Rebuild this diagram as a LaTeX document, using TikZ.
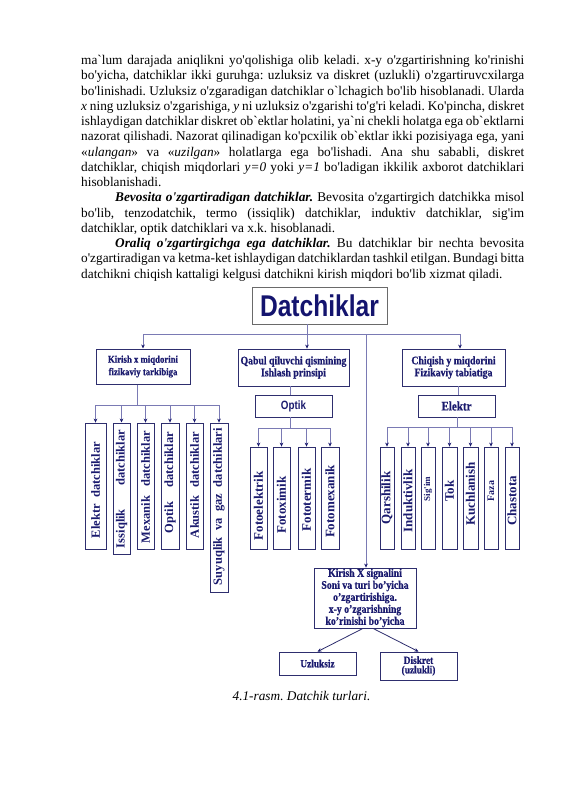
\documentclass[tikz,border=0pt]{standalone}
\usepackage{fontspec}
\setmainfont{Liberation Serif}[Ligatures=TeXOff]
\newfontfamily\dgser{Liberation Serif}[FakeStretch=0.85,Ligatures=TeXOff,BoldFeatures={FakeBold=0.7}]
\newfontfamily\dgsans{Liberation Sans}[FakeStretch=0.82]
\usetikzlibrary{arrows.meta}
\definecolor{navy}{HTML}{1A1A6E}
\definecolor{deepnavy}{HTML}{14146E}
\definecolor{wirec}{HTML}{7A7AB4}
\definecolor{framec}{HTML}{2E2E6E}
\definecolor{grayframe}{HTML}{6A6A6A}
\frenchspacing
\begin{document}
\begin{tikzpicture}[x=1pt,y=-1pt,
  bodyline/.style={anchor=base west,inner sep=0pt,font=\fontsize{13.3}{15.25}\selectfont},
  box/.style={draw=framec,line width=0.8pt,inner sep=0pt,text=navy},
  hbox/.style={box,align=center,font=\dgser\bfseries\fontsize{11.5}{12}\selectfont},
  vbox/.style={box,minimum height=102pt},
  vtext/.style={rotate=90,inner sep=0pt,text=navy,font=\bfseries\fontsize{12.5}{12.5}\selectfont},
  vtextb/.style={vtext,font=\bfseries\fontsize{13}{13}\selectfont},
  wire/.style={draw=wirec,line width=0.7pt},
  arr/.style={-{Stealth[length=4pt,width=3.6pt,color=navy]}}
]
\fill[white] (0,0) rectangle (565,800);
\useasboundingbox (0,0) rectangle (565,800);

% ---------- body text ----------
\node[bodyline] (l1) at (81,64.5) {\makebox[443pt][s]{ma`lum darajada aniqlikni yo'qolishiga olib keladi. x-y o'zgartirishning ko'rinishi}};
\node[bodyline] (l2) at (81,79.75) {\makebox[443pt][s]{bo'yicha, datchiklar ikki guruhga: uzluksiz va diskret (uzlukli) o'zgartiruvcxilarga}};
\node[bodyline] (l3) at (81,95) {\makebox[443pt][s]{bo'linishadi. Uzluksiz o'zgaradigan datchiklar o`lchagich bo'lib hisoblanadi. Ularda}};
\node[bodyline] (l4) at (81,110.25) {\makebox[443pt][s]{\textit{x} ning uzluksiz o'zgarishiga, \textit{y} ni uzluksiz o'zgarishi to'g'ri keladi. Ko'pincha, diskret}};
\node[bodyline] (l5) at (81,125.5) {\makebox[443pt][s]{ishlaydigan datchiklar diskret ob`ektlar holatini, ya`ni chekli holatga ega ob`ektlarni}};
\node[bodyline] (l6) at (81,140.75) {\makebox[443pt][s]{nazorat qilishadi. Nazorat qilinadigan ko'pcxilik ob`ektlar ikki pozisiyaga ega, yani}};
\node[bodyline] (l7) at (81,156) {\makebox[443pt][s]{«\textit{ulangan}» va «\textit{uzilgan}» holatlarga ega bo'lishadi. Ana shu sababli, diskret}};
\node[bodyline] (l8) at (81,171.25) {\makebox[443pt][s]{datchiklar, chiqish miqdorlari \textit{y=0} yoki \textit{y=1} bo'ladigan ikkilik axborot datchiklari}};
\node[bodyline] (l9) at (81,186.5) {hisoblanishadi.};
\node[bodyline] (l10) at (115,201.75) {\makebox[409pt][s]{\textbf{\textit{Bevosita o'zgartiradigan datchiklar.}} Bevosita o'zgartirgich datchikka misol}};
\node[bodyline] (l11) at (81,217) {\makebox[443pt][s]{bo'lib, tenzodatchik, termo (issiqlik) datchiklar, induktiv datchiklar, sig'im}};
\node[bodyline] (l12) at (81,232.25) {datchiklar, optik datchiklari va x.k. hisoblanadi.};
\node[bodyline] (l13) at (115,247.5) {\makebox[409pt][s]{\textbf{\textit{Oraliq o'zgartirgichga ega datchiklar.}} Bu datchiklar bir nechta bevosita}};
\node[bodyline] (l14) at (81,262.75) {\makebox[443pt][s]{o'zgartiradigan va ketma-ket ishlaydigan datchiklardan tashkil etilgan. Bundagi bitta}};
\node[bodyline] (l15) at (81,278) {datchikni chiqish kattaligi kelgusi datchikni kirish miqdori bo'lib xizmat qiladi.};

% ---------- top level ----------
\node[box,draw=grayframe,minimum width=135pt,minimum height=37pt,text=deepnavy,
      font=\dgsans\bfseries\fontsize{30}{30}\selectfont] (dat) at (319.5,305.5) {Datchiklar};

\node[hbox,line width=1pt,minimum width=94pt,minimum height=35pt,
      font=\dgser\bfseries\fontsize{10.3}{12.5}\selectfont] (kir) at (143,366.5) {Kirish x miqdorini\\fizikaviy tarkibiga};
\node[hbox,minimum width=111pt,minimum height=37pt] (qab) at (293.5,367.5) {Qabul qiluvchi qismining\\Ishlash prinsipi};
\node[hbox,minimum width=103pt,minimum height=37pt] (chq) at (453.5,367.5) {Chiqish y miqdorini\\Fizikaviy tabiatiga};

\node[box,minimum width=77pt,minimum height=22pt,font=\dgsans\bfseries\fontsize{12}{12}\selectfont] (opt) at (293.5,406) {Optik};
\node[box,minimum width=77pt,minimum height=22pt,font=\dgser\bfseries\fontsize{13}{13}\selectfont] (ele) at (456.5,406) {Elektr};

% ---------- left group ----------
\node[box,minimum width=21pt,minimum height=126pt] (e1) at (95.5,486) {};
\node[box,line width=1pt,minimum width=17pt,minimum height=131pt] (e2) at (121.5,488.5) {};
\node[box,minimum width=17pt,minimum height=126pt] (e3) at (145.5,486) {};
\node[box,minimum width=18pt,minimum height=126pt] (e4) at (170,486) {};
\node[box,minimum width=17pt,minimum height=126pt] (e5) at (194.5,486) {};
\node[box,minimum width=18pt,minimum height=169pt] (e6) at (219,507.5) {};
\node[vtext] (t1) at (e1.center |- 0,490) {\makebox[96pt][s]{Elektr datchiklar}};
\node[vtext] (t2) at (e2.center |- 0,489) {\makebox[118pt][s]{Issiqlik datchiklar}};
\node[vtext] (t3) at (e3.center |- 0,487) {\makebox[112pt][s]{Mexanik datchiklar}};
\node[vtext] (t4) at (e4.center |- 0,482.5) {\makebox[101pt][s]{Optik datchiklar}};
\node[vtext] (t5) at (e5.center |- 0,485) {\makebox[106pt][s]{Akustik datchiklar}};
\node[vtext] (t6) at (e6.center |- 0,506.5) {\makebox[157pt][s]{Suyuqlik va gaz datchiklari}};

% ---------- optik group ----------
\node[vbox,minimum width=17pt] (o1) at (258.5,498) {};
\node[vbox,minimum width=17pt] (o2) at (281.5,498) {};
\node[vbox,minimum width=17pt] (o3) at (306.5,498) {};
\node[vbox,minimum width=18pt] (o4) at (330,498) {};
\node[vtextb] (ot1) at (o1.center |- 0,506) {Fotoelektrik};
\node[vtextb] (ot2) at (o2.center |- 0,505) {Fotoximik};
\node[vtextb] (ot3) at (o3.center |- 0,500) {Fototermik};
\node[vtextb] (ot4) at (o4.center |- 0,501.5) {Fotomexanik};

% ---------- elektr group ----------
\node[vbox,minimum width=14pt] (p1) at (387,498) {};
\node[vbox,minimum width=14pt] (p2) at (408,498) {};
\node[vbox,minimum width=14pt] (p3) at (428,498) {};
\node[vbox,minimum width=15pt] (p4) at (449.5,498) {};
\node[vbox,minimum width=15pt] (p5) at (470.5,498) {};
\node[vbox,minimum width=14pt] (p6) at (491,498) {};
\node[vbox,minimum width=14pt] (p7) at (512,498) {};
\node[vtextb] (pt1) at (p1.center |- 0,498) {Qarshilik};
\node[vtextb] (pt2) at (p2.center |- 0,501) {Induktivlik};
\node[vtextb,font=\bfseries\fontsize{9}{9}\selectfont] (pt3) at (p3.center |- 0,489) {Sig'im};
\node[vtextb] (pt4) at (p4.center |- 0,491) {Tok};
\node[vtextb] (pt5) at (p5.center |- 0,494) {Kuchlanish};
\node[vtextb,font=\bfseries\fontsize{10}{10}\selectfont] (pt6) at (p6.center |- 0,491) {Faza};
\node[vtextb] (pt7) at (p7.center |- 0,501) {Chastota};

% ---------- bottom ----------
\node[hbox,minimum width=102pt,minimum height=60pt] (kx) at (365,598)
  {Kirish X signalini\\Soni va turi bo’yicha\\o’zgartirishiga.\\x-y o’zgarishning\\ko’rinishi bo’yicha};
\node[hbox,minimum width=77pt,minimum height=23pt,font=\dgser\bfseries\fontsize{11}{10}\selectfont] (uz) at (317.5,663.5) {Uzluksiz};
\node[hbox,minimum width=77pt,minimum height=28pt,font=\dgser\bfseries\fontsize{11}{9.5}\selectfont] (dk) at (418.5,666) {Diskret\\(uzlukli)};

\node[anchor=base,inner sep=0pt,font=\itshape\fontsize{13.3}{15}\selectfont] (cap) at (301.5,700) {4.1-rasm. Datchik turlari.};

% ---------- connectors ----------
\coordinate (bL) at (143,334);
\coordinate (bR) at (460,334);
\coordinate (bQ) at (307,334);
\coordinate (bM) at (366,334);
\draw[wire] (bL) -- (bR);
\draw[wire,arr] (bL) -- (kir.north);
\draw[wire,arr] (bR) -- (bR |- chq.north);
\draw[wire,arr] (dat.south -| bQ) -- (bQ |- qab.north);
\draw[wire,arr] (bM) -- (bM |- kx.north);

\coordinate (qo) at (290,390);
\draw[wire] (qo |- qab.south) -- (qo |- opt.north);
\coordinate (ce) at (458,390);
\draw[wire] (ce |- chq.south) -- (ce |- ele.north);

\coordinate (kb) at (137,405);
\draw[wire] (kir.south -| kb) -- (kb);
\draw[wire] (e1.north |- kb) -- (e6.north |- kb);
\foreach \n in {e1,e2,e3,e4,e5,e6} \draw[wire,arr] (\n.north |- kb) -- (\n.north);

\coordinate (ob) at (290,428);
\draw[wire] (opt.south -| ob) -- (ob);
\draw[wire] (o1.north |- ob) -- (o4.north |- ob);
\foreach \n in {o1,o2,o3,o4} \draw[wire,arr] (\n.north |- ob) -- (\n.north);

\coordinate (eb) at (457,427);
\draw[wire] (ele.south -| eb) -- (eb);
\draw[wire] (p1.north |- eb) -- (p7.north |- eb);
\foreach \n in {p1,p2,p3,p4,p5,p6,p7} \draw[wire,arr] (\n.north |- eb) -- (\n.north);

\draw[draw=framec,line width=0.8pt,arr] ([xshift=-2pt]kx.south) -- (uz.north);
\draw[draw=framec,line width=0.8pt,arr] ([xshift=8pt]kx.south) -- (dk.north);
\end{tikzpicture}
\end{document}
